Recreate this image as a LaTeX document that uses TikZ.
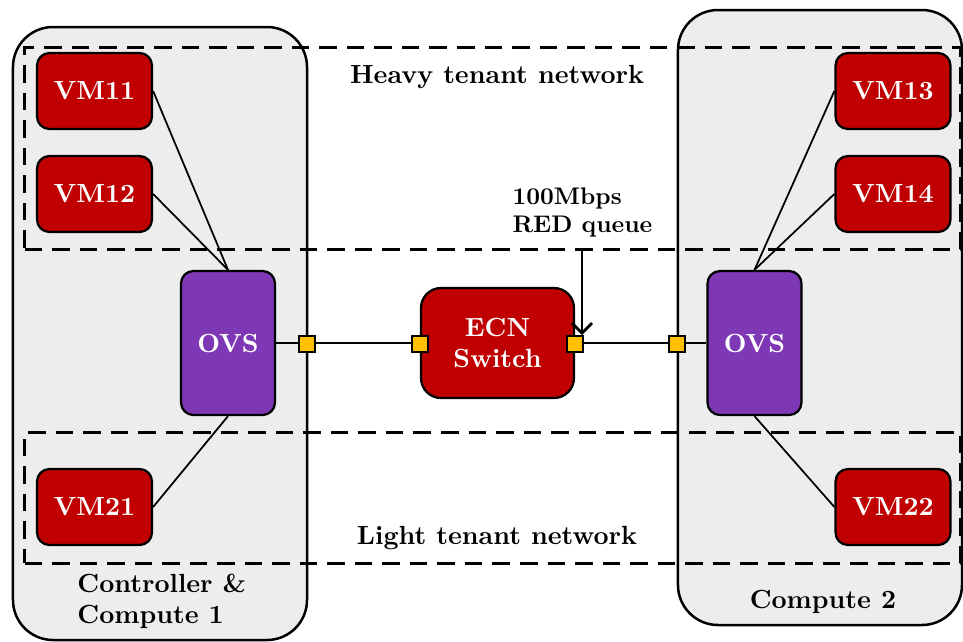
\documentclass[tikz,border=0pt]{standalone}
\usepackage{tikz}
\usetikzlibrary{arrows.meta,positioning,calc}

\definecolor{vmred}{HTML}{C00000}
\definecolor{ovspurple}{HTML}{7F38B5}
\definecolor{portyellow}{HTML}{FFC000}
\definecolor{hostgray}{HTML}{EDEDED}

\begin{document}
\begin{tikzpicture}[
  x=0.4pt,y=-0.4pt,
  font=\fontsize{10.5}{12.5}\selectfont\bfseries,
  hostbox/.style={draw,line width=1pt,fill=hostgray,rounded corners=16pt},
  netbox/.style={draw,dashed,line width=1.2pt,dash pattern=on 7pt off 4pt},
  vmnode/.style={draw,line width=0.9pt,fill=vmred,text=white,rounded corners=5pt,
    minimum width=46pt,minimum height=30.4pt,inner sep=0pt},
  ovsnode/.style={draw,line width=0.9pt,fill=ovspurple,text=white,rounded corners=5pt,
    minimum width=37.6pt,minimum height=57.6pt,inner sep=0pt},
  swnode/.style={draw,line width=0.9pt,fill=vmred,text=white,rounded corners=8pt,
    minimum width=61.2pt,minimum height=44pt,inner sep=0pt,align=center},
  portnode/.style={draw,line width=0.7pt,fill=portyellow,minimum size=6.4pt,inner sep=0pt},
  link/.style={line width=0.7pt}
]
\useasboundingbox (0,0) rectangle (963,642);

% ---- hosts ----
\node[hostbox,minimum width=117.6pt,minimum height=245.2pt] (host1) at (160,333.5) {};
\node[hostbox,minimum width=113.6pt,minimum height=246pt] (host2) at (820,317.5) {};

% ---- tenant networks ----
\node[netbox,minimum width=374pt,minimum height=80.8pt] (heavynet) at (492.5,148) {};
\node[netbox,minimum width=374pt,minimum height=52.4pt] (lightnet) at (492.5,497.5) {};
\node (heavylbl) at (497,77) {Heavy tenant network};
\node (lightlbl) at (497,538) {Light tenant network};

% ---- host labels ----
\node[align=left,anchor=west,inner sep=0pt] (host1lbl) at (77,601) {Controller \&\\Compute 1};
\node (host2lbl) at (823,602) {Compute 2};

% ---- VMs and switches ----
\node[vmnode] (vm11) at (94.5,91) {VM11};
\node[vmnode] (vm12) at (94.5,194) {VM12};
\node[vmnode] (vm21) at (94.5,507) {VM21};
\node[vmnode] (vm13) at (893,91) {VM13};
\node[vmnode] (vm14) at (893,194) {VM14};
\node[vmnode] (vm22) at (893,507) {VM22};

\node[ovsnode] (ovs1) at (228,343) {OVS};
\node[ovsnode] (ovs2) at (754.5,343) {OVS};
\node[swnode] (ecn) at (497.5,343) {ECN\\Switch};

% ---- VM links ----
\draw[link] (vm11.east) -- (ovs1.north);
\draw[link] (vm12.east) -- (ovs1.north);
\draw[link] (vm21.east) -- (ovs1.south);
\draw[link] (vm13.west) -- (ovs2.north);
\draw[link] (vm14.west) -- (ovs2.north);
\draw[link] (vm22.west) -- (ovs2.south);

% ---- ports and trunk ----
\draw[link] (ovs1.east) -- (ecn.west);
\draw[link] (ecn.east) -- (ovs2.west);
\node[portnode] (p1) at (307,344) {};
\node[portnode] (p2) at (ecn.west |- p1) {};
\node[portnode] (p3) at (ecn.east |- p1) {};
\node[portnode] (p4) at (677,344) {};

% ---- queue annotation ----
\node[align=left,anchor=north west,inner sep=0pt,font=\fontsize{9.6}{11.5}\selectfont\bfseries]
  (queuelbl) at (512,187) {100Mbps\\RED queue};
\coordinate (queuetop) at (582,248);
\draw[-{Straight Barb[length=4pt,width=8pt]},line width=1.1pt] (queuetop) -- (queuetop |- p3.north);

\end{tikzpicture}
\end{document}
